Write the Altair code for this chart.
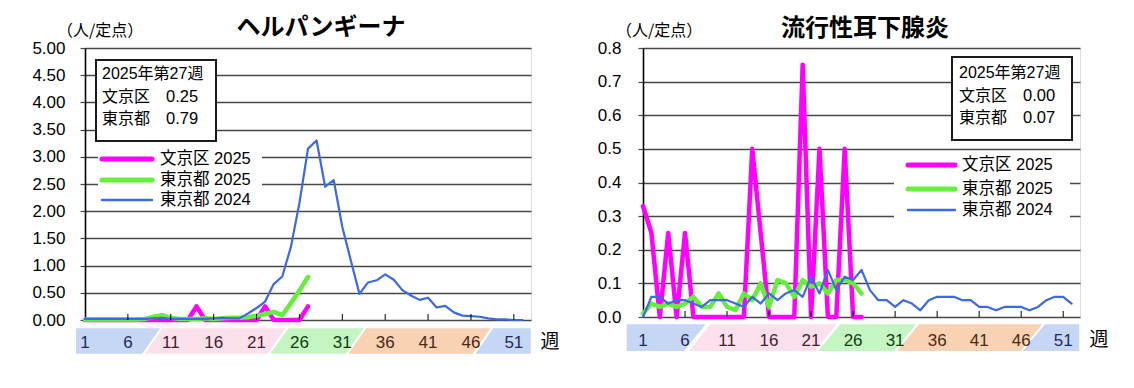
import altair as alt
import pandas as pd

# ---------------- data ----------------
weeks_2024 = list(range(1, 53))
weeks_2025 = list(range(1, 28))

# ヘルパンギーナ (人/定点)
herp_bunkyo_2025 = [0, 0, 0, 0, 0, 0, 0, 0, 0, 0, 0, 0, 0, 0.25, 0, 0, 0, 0, 0, 0,
                    0, 0.25, 0, 0, 0, 0, 0.25]
herp_tokyo_2025 = [0.01, 0.01, 0.01, 0.01, 0.01, 0.01, 0.01, 0.02, 0.06, 0.09,
                   0.04, 0.02, 0.02, 0.02, 0.03, 0.02, 0.03, 0.04, 0.04, 0.05,
                   0.08, 0.11, 0.15, 0.09, 0.31, 0.54, 0.79]
herp_tokyo_2024 = [0.02, 0.02, 0.02, 0.02, 0.02, 0.02, 0.02, 0.02, 0.03, 0.04,
                   0.02, 0.02, 0.02, 0.02, 0.02, 0.03, 0.04, 0.03, 0.03, 0.12,
                   0.22, 0.34, 0.66, 0.80, 1.34, 2.15, 3.15, 3.30, 2.45, 2.57,
                   1.71, 1.09, 0.48, 0.69, 0.73, 0.84, 0.74, 0.55, 0.45, 0.37,
                   0.41, 0.23, 0.26, 0.14, 0.08, 0.07, 0.06, 0.03, 0.01, 0.01,
                   0.00, 0.00]

# 流行性耳下腺炎 (人/定点)
mumps_bunkyo_2025 = [0.33, 0.25, 0, 0.25, 0, 0.25, 0, 0, 0, 0, 0, 0, 0, 0.5, 0.25,
                     0, 0, 0, 0, 0.75, 0, 0.5, 0, 0, 0.5, 0, 0]
mumps_tokyo_2025 = [0.01, 0.04, 0.03, 0.04, 0.03, 0.04, 0.06, 0.03, 0.03, 0.07,
                    0.03, 0.02, 0.07, 0.05, 0.10, 0.03, 0.11, 0.10, 0.06, 0.11,
                    0.09, 0.10, 0.07, 0.11, 0.11, 0.10, 0.07]
mumps_tokyo_2024 = [0.00, 0.06, 0.06, 0.04, 0.05, 0.05, 0.04, 0.03, 0.05, 0.05,
                    0.05, 0.04, 0.03, 0.06, 0.04, 0.07, 0.05, 0.07, 0.08, 0.06,
                    0.12, 0.07, 0.14, 0.08, 0.12, 0.11, 0.14, 0.08, 0.05, 0.05,
                    0.03, 0.05, 0.04, 0.02, 0.05, 0.06, 0.06, 0.06, 0.05, 0.05,
                    0.03, 0.03, 0.02, 0.03, 0.03, 0.03, 0.02, 0.03, 0.05, 0.06,
                    0.06, 0.04]

tick_weeks = [6, 11, 16, 21, 26, 31, 36, 41, 46, 51]
label_weeks = [1, 6, 11, 16, 21, 26, 31, 36, 41, 46, 51]
label_season = [0, 0, 1, 1, 1, 2, 2, 3, 3, 3, 4]

series_names = ["文京区 2025", "東京都 2025", "東京都 2024"]
info_title = "2025年第27週"
info_names = ["文京区", "東京都"]

# season bands (winter, spring, summer, autumn, winter): bottom-left / bottom-right week
season_ids = ["winter1", "spring", "summer", "autumn", "winter2"]
herp_band_edges = [(-0.06, 7.66), (7.95, 22.3), (22.6, 31.4), (31.7, 46.2), (46.5, 52.97)]
mumps_band_edges = [(-0.94, 5.85), (6.44, 21.45), (21.84, 30.9), (31.25, 45.9), (46.2, 52.9)]

# ---------------- styles ----------------
season_fill = ["#C6D6F5", "#FCE1EC", "#C6F5C4", "#F9D1B3", "#C6D6F5"]
season_text = ["#1E2A5E", "#45202F", "#0D3F0D", "#4B2A12", "#1E2A5E"]
MAG = "#FF00FF"
GRN = "#66EE3C"
BLU = "#3D6AE0"
JP = "Noto Sans CJK JP"
MIX = "Liberation Sans, Noto Sans CJK JP"
one = pd.DataFrame({"k": [0]})


def band_df(edges, slant):
    rows = []
    last = len(edges) - 1
    for i, (bl, br) in enumerate(edges):
        if i == 0:
            pts = [(bl, 1, 0), (br, 1, 0), (br + slant, 1, 1)]
        elif i == last:
            pts = [(bl, 0, 0), (bl + slant, 1, 0), (br, 1, 0)]
        else:
            pts = [(bl, 0, 0), (bl + slant, 1, 0), (br, 1, 0), (br + slant, 1, 1)]
        for x, top, bot in pts:
            rows.append({"x": x, "top": top, "bot": bot,
                         "season": season_ids[i], "fill": season_fill[i]})
    return pd.DataFrame(rows)


def panel(title, bunkyo, tokyo25, tokyo24, ymax, ystep, yfmt, W, H, lay):
    xs = alt.Scale(domain=[1, 53], nice=False, zero=False)
    yticks = [round(i * ystep, 4) for i in range(int(round(ymax / ystep)) + 1)]
    yaxis = alt.Axis(values=yticks, format=yfmt, grid=True, gridColor="#474747",
                     gridWidth=1.3, domainColor="black", domainWidth=1.6,
                     tickColor="#474747", tickSize=5, tickWidth=1.2,
                     labelPadding=lay["lpad"], labelFontSize=17, labelFont="Liberation Sans",
                     labelColor="black", title=None)
    ys = alt.Scale(domain=[0, ymax], nice=False, zero=True)

    def line(vals, weeks, color, width):
        df = pd.DataFrame({"week": weeks, "v": vals})
        return alt.Chart(df).mark_line(color=color, strokeWidth=width,
                                       strokeJoin="round", strokeCap="round").encode(
            x=alt.X("week:Q", scale=xs, axis=None),
            y=alt.Y("v:Q", scale=ys, axis=yaxis))

    l_mag = line(bunkyo, weeks_2025, MAG, 4.5)
    l_grn = line(tokyo25, weeks_2025, GRN, 4.5)
    l_blu = line(tokyo24, weeks_2024, BLU, 2.2)

    ticks = alt.Chart(pd.DataFrame({"week": tick_weeks})).mark_rule(
        color="black", strokeWidth=1).encode(
        x=alt.X("week:Q", scale=xs, axis=None),
        y=alt.value(H), y2=alt.value(H - 6))

    # legend
    lg = lay["legend"]
    leg_bg = alt.Chart(one).mark_rect(fill="white", stroke=None).encode(
        x=alt.value(lg["x0"]), x2=alt.value(lg["x1"]),
        y=alt.value(lg["y0"]), y2=alt.value(lg["y1"]))
    leg_items = []
    for name, col, wdt, yy in zip(series_names, [MAG, GRN, BLU], [5, 5, 2.4], lg["ys"]):
        leg_items.append(alt.Chart(one).mark_rule(color=col, strokeWidth=wdt,
                                                  strokeCap="round").encode(
            x=alt.value(lg["lx0"]), x2=alt.value(lg["lx1"]), y=alt.value(yy)))
        leg_items.append(alt.Chart(one).mark_text(
            text=name, align="left", baseline="middle", font=MIX, fontSize=16.5,
            color="black").encode(x=alt.value(lg["tx"]), y=alt.value(yy)))

    # info box
    ib = lay["info"]
    info_vals = [f"{bunkyo[-1]:.2f}", f"{tokyo25[-1]:.2f}"]
    info = [alt.Chart(one).mark_rect(fill="white", stroke="#1a1a1a", strokeWidth=2).encode(
        x=alt.value(ib["x0"]), x2=alt.value(ib["x1"]),
        y=alt.value(ib["y0"]), y2=alt.value(ib["y1"])),
        alt.Chart(one).mark_text(text=info_title, align="left", baseline="middle",
                                 font=MIX, fontSize=16, color="black").encode(
            x=alt.value(ib["tx"]), y=alt.value(ib["ys"][0]))]
    for nm, vv, yy in zip(info_names, info_vals, ib["ys"][1:]):
        info.append(alt.Chart(one).mark_text(text=nm, align="left", baseline="middle",
                                             font=JP, fontSize=16, color="black").encode(
            x=alt.value(ib["tx"]), y=alt.value(yy)))
        info.append(alt.Chart(one).mark_text(text=vv, align="left", baseline="middle",
                                             font="Liberation Sans", fontSize=16.5,
                                             color="black").encode(
            x=alt.value(ib["vx"]), y=alt.value(yy)))

    ttl = alt.Chart(one).mark_text(text=title, align="center", baseline="middle",
                                   font=JP, fontSize=24, fontWeight="bold",
                                   color="black").encode(
        x=alt.value(lay["title"][0]), y=alt.value(lay["title"][1]))
    unit = alt.Chart(one).mark_text(text="（人/定点）", align="left", baseline="middle",
                                    font=JP, fontSize=16, color="black").encode(
        x=alt.value(lay["unit"][0]), y=alt.value(lay["unit"][1]))

    main = alt.layer(l_mag, l_grn, l_blu, ticks, leg_bg, *leg_items, *info, ttl, unit)

    # season band under the axis
    bd = band_df(lay["edges"], lay["slant"])
    band = alt.Chart(bd).mark_area(stroke=None, interpolate="linear").encode(
        x=alt.X("x:Q", scale=xs, axis=None),
        y=alt.Y("top:Q", scale=alt.Scale(domain=[0, 1], range=[H + lay["band"][1], H + lay["band"][0]]),
                axis=None),
        y2="bot:Q",
        color=alt.Color("fill:N", scale=None, legend=None),
        detail="season:N")
    lab_df = pd.DataFrame({"week": label_weeks,
                           "lab": [str(w) for w in label_weeks],
                           "tc": [season_text[s] for s in label_season]})
    labs = alt.Chart(lab_df).mark_text(align="center", baseline="middle",
                                       font="Liberation Sans", fontSize=17).encode(
        x=alt.X("week:Q", scale=xs, axis=None),
        y=alt.value(lay["laby"]),
        text="lab:N",
        color=alt.Color("tc:N", scale=None, legend=None))
    shu = alt.Chart(one).mark_text(text="週", align="center", baseline="middle",
                                   font=JP, fontSize=19, color="black").encode(
        x=alt.value(lay["shu"][0]), y=alt.value(lay["shu"][1]))

    layers = [main, band, labs, shu]
    if lay.get("marker"):
        mx, my = lay["marker"]
        layers.append(alt.Chart(one).mark_rule(color="white", strokeWidth=1).encode(
            x=alt.value(mx), x2=alt.value(mx + 1), y=alt.value(my)))
    return alt.layer(*layers).resolve_scale(y="independent").properties(width=W, height=H)


herp_layout = {
    "lpad": 15,
    "legend": {"x0": 13, "x1": 177, "y0": 103, "y1": 158, "lx0": 17, "lx1": 67,
               "tx": 75, "ys": [111, 132, 152]},
    "info": {"x0": 11, "x1": 131, "y0": 12, "y1": 93, "tx": 17, "vx": 81,
             "ys": [25.5, 48.5, 71]},
    "title": (236, -20),
    "unit": (-28, -17),
    "edges": herp_band_edges,
    "slant": 2.1,
    "band": (8.3, 33.7),
    "laby": 295,
    "shu": (465, 294),
    "marker": (-76, -39),
}
mumps_layout = {
    "lpad": 17,
    "legend": {"x0": 251, "x1": 427, "y0": 103, "y1": 175, "lx0": 265, "lx1": 312,
               "tx": 319, "ys": [117, 141, 162]},
    "info": {"x0": 309, "x1": 429, "y0": 9, "y1": 92, "tx": 316, "vx": 380,
             "ys": [25, 48, 70]},
    "title": (222, -19),
    "unit": (-27, -17),
    "edges": mumps_band_edges,
    "slant": 2.6,
    "band": (7.3, 34),
    "laby": 292.5,
    "shu": (456, 292),
}

left = panel("ヘルパンギーナ", herp_bunkyo_2025, herp_tokyo_2025, herp_tokyo_2024,
             5.0, 0.5, ".2f", 446, 272, herp_layout)
right = panel("流行性耳下腺炎", mumps_bunkyo_2025, mumps_tokyo_2025, mumps_tokyo_2024,
              0.8, 0.1, ".1f", 437, 269, mumps_layout)

chart = alt.hconcat(left, right, spacing=112, bounds="flush").properties(
    padding={"left": 0, "top": 0, "right": 0, "bottom": 0}
).configure_view(stroke="black", strokeWidth=1.6).configure(background="white")

chart.save("out.html", embed_options={"renderer": "svg", "actions": False})
